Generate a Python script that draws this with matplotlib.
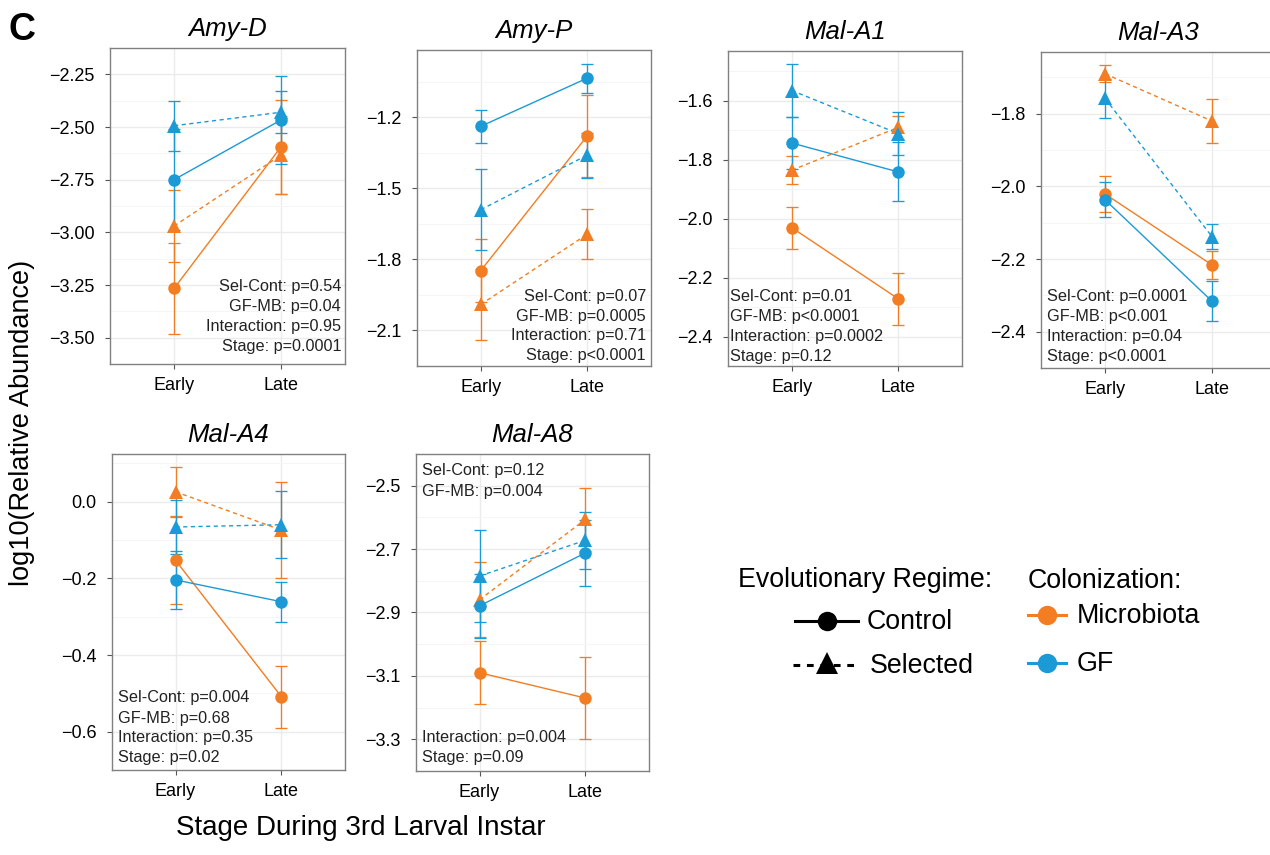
import numpy as np
import matplotlib
matplotlib.use("Agg")
import matplotlib.pyplot as plt

plt.rcParams['font.family'] = ['Liberation Sans', 'DejaVu Sans']

genes = ["Amy-D", "Amy-P", "Mal-A1", "Mal-A3", "Mal-A4", "Mal-A8"]
stages = ["Early", "Late"]

# (early, late) means, one pair per gene
mb_control = [(-3.266, -2.595), (-1.847, -1.279), (-2.031, -2.272),
              (-2.021, -2.216), (-0.153, -0.509), (-3.090, -3.170)]
mb_control_err = [(0.215, 0.225), (0.133, 0.172), (0.071, 0.088),
                  (0.049, 0.039), (0.115, 0.081), (0.100, 0.130)]
mb_selected = [(-2.970, -2.634), (-1.990, -1.694), (-1.836, -1.691),
               (-1.690, -1.820), (0.026, -0.074), (-2.860, -2.606)]
mb_selected_err = [(0.170, 0.185), (0.150, 0.105), (0.047, 0.038),
                   (0.023, 0.061), (0.065, 0.125), (0.118, 0.100)]
gf_control = [(-2.750, -2.467), (-1.238, -1.035), (-1.744, -1.842),
              (-2.037, -2.316), (-0.204, -0.261), (-2.879, -2.712)]
gf_control_err = [(0.240, 0.210), (0.070, 0.062), (0.087, 0.100),
                  (0.048, 0.055), (0.075, 0.052), (0.100, 0.105)]
gf_selected = [(-2.494, -2.430), (-1.590, -1.360), (-1.566, -1.712),
               (-1.758, -2.138), (-0.066, -0.060), (-2.785, -2.672)]
gf_selected_err = [(0.118, 0.100), (0.170, 0.095), (0.090, 0.072),
                   (0.055, 0.035), (0.070, 0.088), (0.145, 0.090)]

y_ticks = [[-3.50, -3.25, -3.00, -2.75, -2.50, -2.25],
           [-2.1, -1.8, -1.5, -1.2],
           [-2.4, -2.2, -2.0, -1.8, -1.6],
           [-2.4, -2.2, -2.0, -1.8],
           [-0.6, -0.4, -0.2, 0.0],
           [-3.3, -3.1, -2.9, -2.7, -2.5]]
y_decimals = [2, 1, 1, 1, 1, 1]
y_limits = [(-3.543, -2.19), (-2.197, -0.916), (-2.40, -1.432),
            (-2.40, -1.63), (-0.621, 0.1245), (-3.339, -2.469)]

stats = [["Sel-Cont: p=0.54", "GF-MB: p=0.04", "Interaction: p=0.95", "Stage: p=0.0001"],
         ["Sel-Cont: p=0.07", "GF-MB: p=0.0005", "Interaction: p=0.71", "Stage: p<0.0001"],
         ["Sel-Cont: p=0.01", "GF-MB: p<0.0001", "Interaction: p=0.0002", "Stage: p=0.12"],
         ["Sel-Cont: p=0.0001", "GF-MB: p<0.001", "Interaction: p=0.04", "Stage: p<0.0001"],
         ["Sel-Cont: p=0.004", "GF-MB: p=0.68", "Interaction: p=0.35", "Stage: p=0.02"],
         ["Sel-Cont: p=0.12", "GF-MB: p=0.004", "Interaction: p=0.004", "Stage: p=0.09"]]

ORANGE = "#F27D22"
BLUE = "#1C9AD6"

W, H = 1270, 855
fig = plt.figure(figsize=(12.7, 8.55), dpi=100)


def px_axes(l, t, r, b):
    return fig.add_axes([l / W, 1 - b / H, (r - l) / W, (b - t) / H])


def px_text(x, y, s, **kw):
    fig.text(x / W, 1 - y / H, s, **kw)


# panel boxes in pixels: left, top, right, bottom
boxes = [(110, 48, 345, 364), (417, 50, 651, 366), (728, 51, 962, 366),
         (1041, 52, 1276, 368), (112, 454, 345, 770), (416, 454, 649, 771)]

# where the stats text sits (pixels)
stat_x = [341, 646, 730, 1047, 118, 422]
stat_ha = ["right", "right", "left", "left", "left", "left"]
stat_y = [[286, 306, 326, 346], [297, 316, 335, 355], [297, 317, 337, 356],
          [297, 317, 337, 356], [697, 718, 737, 757], [470, 491, 737, 757]]

series = [(mb_control, mb_control_err, ORANGE, "o", "-"),
          (mb_selected, mb_selected_err, ORANGE, "^", (0, (3, 2.5))),
          (gf_control, gf_control_err, BLUE, "o", "-"),
          (gf_selected, gf_selected_err, BLUE, "^", (0, (3, 2.5)))]

x = np.arange(1, 3)
for i, gene in enumerate(genes):
    ax = px_axes(*boxes[i])
    for vals, errs, col, mk, ls in series:
        ax.plot(x, vals[i], color=col, lw=1.0, ls=ls, zorder=3)
        ax.errorbar(x, vals[i], yerr=errs[i], fmt="none", ecolor=col,
                    elinewidth=0.95, capsize=4, capthick=0.95, zorder=4)
        ax.plot(x, vals[i], ls="none", marker=mk, color=col,
                ms=9 if mk == "o" else 10.5, mew=0, zorder=5)

    ax.set_xlim(0.4, 2.6)
    ax.set_ylim(*y_limits[i])
    ax.set_xticks(x, stages)
    ticks = y_ticks[i]
    ax.set_yticks(ticks, [f"{t:.{y_decimals[i]}f}".replace("-", "\u2212") for t in ticks])
    step = ticks[1] - ticks[0]
    minors = [t + step / 2 for t in [ticks[0] - step] + ticks]
    ax.set_yticks(minors, minor=True)
    ax.tick_params(which="minor", length=0)
    ax.tick_params(which="major", length=3.5, width=0.8, color="#555555",
                   labelsize=13, labelcolor="black", pad=6)
    ax.tick_params(axis="y", pad=7.5)
    ax.grid(which="major", color="#EBEBEB", lw=1.0)
    ax.grid(which="minor", axis="y", color="#F5F5F5", lw=0.7)
    ax.set_axisbelow(True)
    for sp in ax.spines.values():
        sp.set_color("#808080")
        sp.set_linewidth(1.0)
    ax.set_title(gene, style="italic", fontsize=18.5, pad=8.5)

    for line, yy in zip(stats[i], stat_y[i]):
        px_text(stat_x[i], yy, line, ha=stat_ha[i], va="center",
                fontsize=11.7, color="#222222")

# panel letter and shared axis labels
px_text(22, 30, "C", fontsize=27, fontweight="bold", ha="center", va="center")
px_text(22, 423, "log10(Relative Abundance)", rotation=90, fontsize=19.5,
        ha="center", va="center")
px_text(361, 828, "Stage During 3rd Larval Instar", fontsize=20,
        ha="center", va="center")

# legend, drawn by hand in a pixel-space overlay
lg = fig.add_axes([0, 0, 1, 1], facecolor="none")
lg.set_xlim(0, W)
lg.set_ylim(H, 0)
lg.axis("off")

px_text(738, 580, "Evolutionary Regime:", fontsize=19.3, ha="left", va="center")
lg.plot([795, 858], [621, 621], color="black", lw=2.2)
lg.plot([826.5], [621], marker="o", color="black", ms=14, mew=0)
px_text(867, 622, "Control", fontsize=19.3, ha="left", va="center")
lg.plot([793, 860], [665, 665], color="black", lw=2.2, ls=(0, (2.2, 2.2)))
lg.plot([827], [663], marker="^", color="black", ms=16, mew=0)
px_text(870, 666, "Selected", fontsize=19.3, ha="left", va="center")

px_text(1028, 581, "Colonization:", fontsize=19.3, ha="left", va="center")
for label, col, yy in [("Microbiota", ORANGE, 615), ("GF", BLUE, 663)]:
    lg.plot([1028, 1066], [yy, yy], color=col, lw=2.2)
    lg.plot([1047], [yy], marker="o", color=col, ms=14, mew=0)
    px_text(1077, yy + 1, label, fontsize=19.3, ha="left", va="center")

fig.savefig("out.png", dpi=100)
